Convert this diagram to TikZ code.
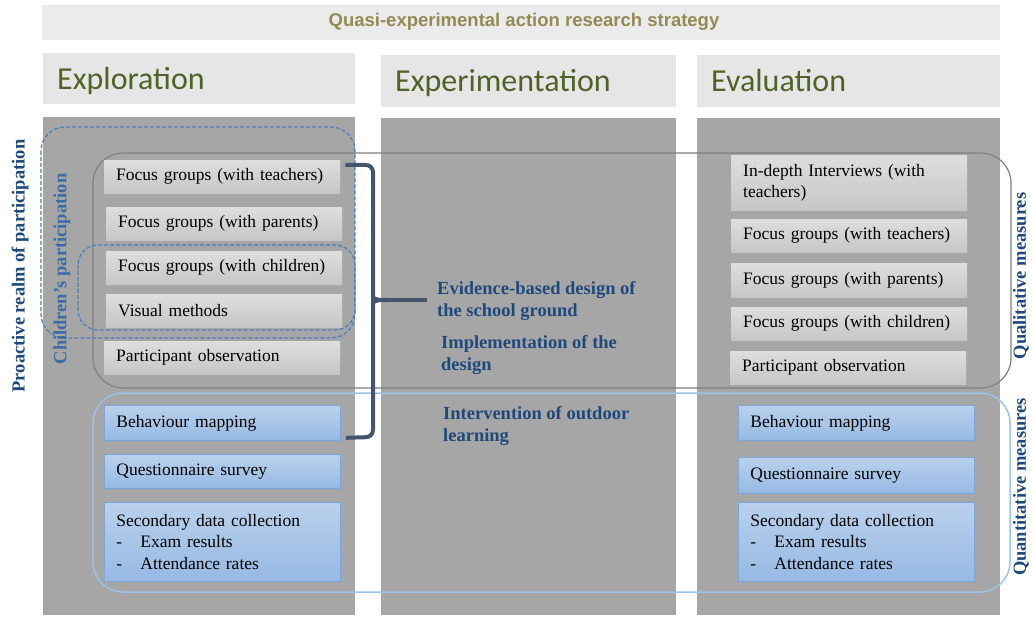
\documentclass[tikz,border=0pt]{standalone}
\usepackage{fontspec}
\setmainfont{Liberation Serif}
\newfontfamily\calib{Carlito}
\newfontfamily\arialf{Liberation Sans}
\definecolor{colfill}{HTML}{A6A6A6}
\definecolor{hdrfill}{HTML}{E6E6E6}
\definecolor{titlefill}{HTML}{EBEBEB}
\definecolor{titletext}{HTML}{948A54}
\definecolor{hdrtext}{HTML}{4F6228}
\definecolor{darkblue}{HTML}{1F497D}
\definecolor{midblue}{HTML}{3A6BA5}
\definecolor{dashblue}{HTML}{4A7EBB}
\definecolor{quantblue}{HTML}{9DC3E6}
\definecolor{qualgray}{HTML}{7F7F7F}
\definecolor{bracecol}{HTML}{44546A}
\definecolor{gtop}{HTML}{DEDEDE}
\definecolor{gbot}{HTML}{C6C6C6}
\definecolor{btop}{HTML}{BAD1EC}
\definecolor{bbot}{HTML}{96B9E3}
\definecolor{bborder}{HTML}{7AA6DC}
\tikzset{
  hdrtxt/.style={font=\calib\fontsize{32}{36}\selectfont, text=hdrtext, anchor=base west, inner sep=0pt},
  gbox/.style={anchor=north west, top color=gtop, bottom color=gbot, draw=none,
    text width=212pt, inner xsep=12pt, inner ysep=0pt, minimum height=33pt, align=left,
    font=\fontsize{17.5}{21.5}\selectfont},
  bbox/.style={gbox, top color=btop, bottom color=bbot, draw=bborder, line width=0.8pt},
  midtxt/.style={anchor=west, align=left, inner sep=0pt, text=darkblue,
    font=\bfseries\fontsize{18.5}{22}\selectfont},
  vlabel/.style={rotate=90, inner sep=0pt, text=darkblue, font=\bfseries\fontsize{18.5}{22}\selectfont},
  dashframe/.style={draw=dashblue, line width=1.2pt, dash pattern=on 4pt off 2pt, rounded corners=24pt},
  bracestyle/.style={draw=bracecol, line width=4pt, rounded corners=7pt}
}
\begin{document}
\begin{tikzpicture}[x=1pt,y=-1pt]
\useasboundingbox (0,0) rectangle (1032,617);
\fill[white] (0,0) rectangle (1032,617);
% title band
\fill[titlefill] (42,5) rectangle (1000,40);
\node[font=\arialf\bfseries\fontsize{18.5}{22}\selectfont, text=titletext, inner sep=0pt] (title) at (524,22) {Quasi-experimental action research strategy};
% headers
\fill[hdrfill] (43,53) rectangle (355,104);
\fill[hdrfill] (381,55) rectangle (676,107);
\fill[hdrfill] (697,55) rectangle (1000,107);
\node[hdrtxt] (h1) at (57,90) {Exploration};
\node[hdrtxt] (h2) at (395,92) {Experimentation};
\node[hdrtxt] (h3) at (711,92) {Evaluation};
% columns
\fill[colfill] (43,117) rectangle (355,615);
\fill[colfill] (381,118) rectangle (676,615);
\fill[colfill] (697,118) rectangle (1000,615);
% measure frames
\draw[draw=qualgray, line width=1.2pt, rounded corners=30pt] (93,153) rectangle (1011,388);
\draw[draw=quantblue, line width=1.5pt, rounded corners=30pt] (93,393) rectangle (1010,592);
% exploration boxes
\node[gbox] (e1) at (104,160) {Focus groups (with teachers)};
\node[gbox] (e2) at (106,207) {Focus groups (with parents)};
\node[gbox] (e3) at (106,251) {Focus groups (with children)};
\node[gbox] (e4) at (106,294) {Visual methods};
\node[gbox] (e5) at (104,341) {Participant observation};
\node[bbox, minimum height=35pt] (e6) at (104,405) {Behaviour mapping};
\node[bbox, minimum height=34pt] (e7) at (104,454) {Questionnaire survey};
\node[bbox, minimum height=79pt] (e8) at (104,502) {Secondary data collection\\\makebox[24pt][l]{-}Exam results\\\makebox[24pt][l]{-}Attendance rates};
% evaluation boxes
\node[gbox, minimum height=55pt] (v1) at (731,155) {In-depth Interviews (with\\teachers)};
\node[gbox] (v2) at (731,219) {Focus groups (with teachers)};
\node[gbox, minimum height=34pt] (v3) at (731,263) {Focus groups (with parents)};
\node[gbox] (v4) at (731,307) {Focus groups (with children)};
\node[gbox] (v5) at (730,351) {Participant observation};
\node[bbox, minimum height=35pt] (v6) at (738,405) {Behaviour mapping};
\node[bbox, minimum height=36pt] (v7) at (738,457) {Questionnaire survey};
\node[bbox, minimum height=79pt] (v8) at (738,502) {Secondary data collection\\\makebox[24pt][l]{-}Exam results\\\makebox[24pt][l]{-}Attendance rates};
% participation dashed frames
\draw[dashframe] (41,127) rectangle (355,338);
\draw[dashframe, rounded corners=20pt] (78,245) rectangle (355,330);
% vertical labels
\node[vlabel] (proactive) at (20,266) {Proactive realm of participation};
\node[vlabel, text=midblue] (childp) at (62,269) {Children’s participation};
\node[vlabel] (qual) at (1021,276) {Qualitative measures};
\node[vlabel] (quant) at (1021,487) {Quantitative measures};
% middle texts
\node[midtxt] (m1) at (437,301) {Evidence-based design of\\the school ground};
\node[midtxt] (m2) at (441,355) {Implementation of the\\design};
\node[midtxt] (m3) at (443,426) {Intervention of outdoor\\learning};
% bracket
\coordinate (bt) at ([xshift=5pt,yshift=-5pt]e1.north east);
\coordinate (bb) at ([xshift=5pt,yshift=3pt]e6.south east);
\coordinate (bm) at (375,300);
\coordinate (btip) at (427,300);
\draw[bracestyle] (bt) -- (373,165) -- (373,437) -- (bb);
\draw[draw=bracecol, line width=4pt] (bm) -- (btip);
\fill[bracecol] (373,295) .. controls (377,298) .. (390,298) -- (390,302) .. controls (377,302) .. (373,305) -- cycle;
\end{tikzpicture}
\end{document}
